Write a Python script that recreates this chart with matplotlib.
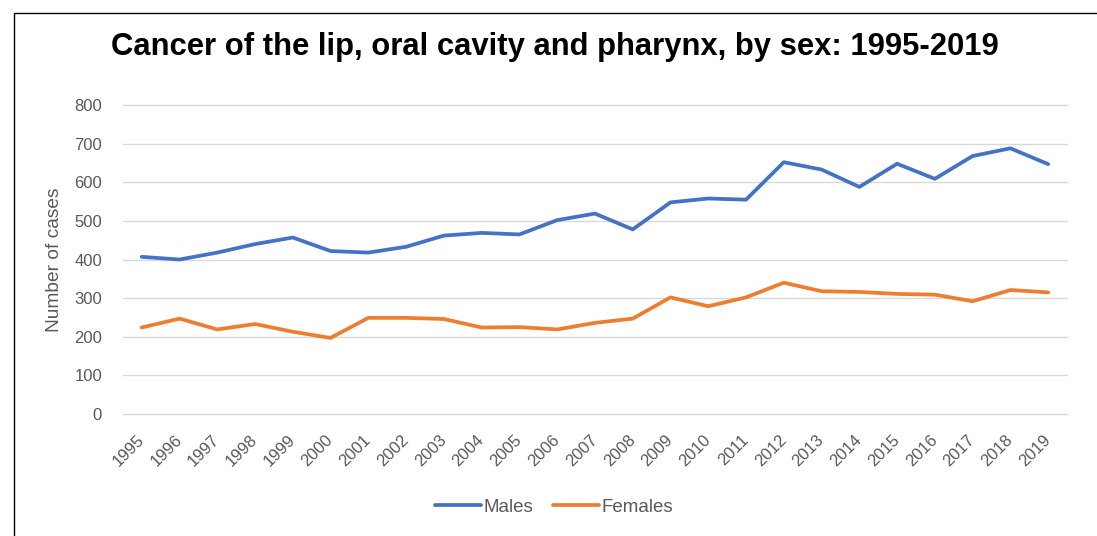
import matplotlib.pyplot as plt
from matplotlib.patches import Rectangle

years = [str(y) for y in range(1995, 2020)]
males = [407, 400, 418, 440, 457, 422, 418, 433, 462, 469, 465, 502, 519,
         478, 548, 558, 555, 652, 633, 588, 648, 609, 668, 688, 647]
females = [224, 247, 219, 233, 213, 197, 249, 249, 246, 224, 225, 219, 236,
           247, 302, 279, 302, 340, 318, 316, 311, 309, 292, 321, 315]

plt.rcParams['font.family'] = ['Liberation Sans', 'DejaVu Sans']
grey = '#595959'

fig = plt.figure(figsize=(10.97, 5.36), dpi=100)
ax = fig.add_axes([0.112, 0.2276, 0.8607, 0.5764])

x = range(len(years))
ax.plot(x, males, color='#4472C4', lw=2.7, label='Males', solid_capstyle='round')
ax.plot(x, females, color='#ED7D31', lw=2.7, label='Females', solid_capstyle='round')

ax.set_xlim(-0.5, len(years) - 0.5)
ax.set_ylim(0, 800)
ax.set_yticks(range(0, 801, 100))
ax.set_xticks(list(x))
ax.set_xticklabels(years, rotation=45, ha='right', va='center', rotation_mode='anchor')
ax.tick_params(axis='both', length=0, labelsize=12, labelcolor=grey)
ax.tick_params(axis='x', pad=17)
ax.tick_params(axis='y', pad=15)
ax.grid(axis='y', color='#D9D9D9', lw=1)
for gl in ax.get_ygridlines():
    gl.set_clip_on(False)
ax.set_axisbelow(True)
for s in ax.spines.values():
    s.set_visible(False)

ax.set_ylabel('Number of cases', fontsize=13.8, color=grey, labelpad=8)

fig.text(0.506, 0.912, 'Cancer of the lip, oral cavity and pharynx, by sex: 1995-2019',
         ha='center', va='center', fontsize=22.3, fontweight='bold')

fig.legend(loc='center', bbox_to_anchor=(0.505, 0.054), ncol=2, frameon=False,
           fontsize=13.5, labelcolor=grey, handlelength=2.45, handletextpad=0.15,
           columnspacing=1.05)

fig.add_artist(Rectangle((14 / 1097, -0.1), 1.2, 1 - 13 / 536 + 0.1,
                         transform=fig.transFigure, fill=False,
                         edgecolor='black', lw=1))

fig.savefig('out.png', dpi=100)
